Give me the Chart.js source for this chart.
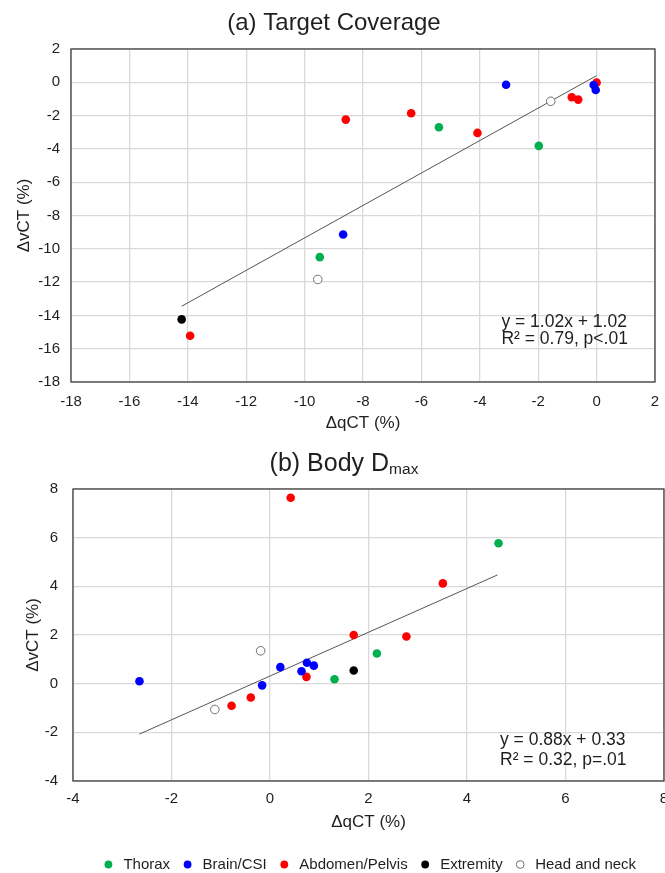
<!DOCTYPE html>
<html>
<head>
<meta charset="utf-8">
<title>qCT vs vCT</title>
<script src="https://cdn.jsdelivr.net/npm/chart.js@4.4.1/dist/chart.umd.min.js"></script>
<style>
  html, body { margin: 0; padding: 0; background: #fff; overflow: hidden; }
  #page { position: relative; width: 665px; height: 873px; overflow: hidden; }
  #chartA { position: absolute; left: 0; top: 0; }
  #chartB { position: absolute; left: 0; top: 440px; }
</style>
</head>
<body>
<div id="page">
  <canvas id="chartA" width="680" height="440"></canvas>
  <canvas id="chartB" width="734" height="442"></canvas>
</div>
<script>
// Site groups, in legend order
const categories = ['Thorax', 'Brain/CSI', 'Abdomen/Pelvis', 'Extremity', 'Head and neck'];

// (a) Target Coverage -- points are [ΔqCT, ΔvCT] in %
const coverageThorax = [[-5.4, -2.7], [-1.98, -3.82], [-9.48, -10.5]];
const coverageBrain = [[-3.1, -0.15], [-0.1, -0.16], [-0.03, -0.46], [-8.68, -9.14]];
const coverageAbdomen = [[0, -0.02], [-0.85, -0.9], [-0.63, -1.04], [-6.35, -1.86], [-8.59, -2.24], [-4.08, -3.04], [-13.92, -15.22]];
const coverageExtremity = [[-14.21, -14.24]];
const coverageHeadNeck = [[-1.57, -1.14], [-9.55, -11.84]];
const coverageFit = [[-14.21, -13.45], [0, 0.4]];
const coverageTicks = [-18, -16, -14, -12, -10, -8, -6, -4, -2, 0, 2];

// (b) Body Dmax
const dmaxThorax = [[4.64, 5.77], [2.17, 1.24], [1.31, 0.18]];
const dmaxBrain = [[-2.65, 0.1], [-0.16, -0.07], [0.21, 0.68], [0.64, 0.51], [0.75, 0.86], [0.89, 0.74]];
const dmaxAbdomen = [[0.42, 7.64], [3.51, 4.12], [1.7, 2.0], [2.77, 1.94], [0.74, 0.28], [-0.39, -0.57], [-0.78, -0.91]];
const dmaxExtremity = [[1.7, 0.54]];
const dmaxHeadNeck = [[-0.19, 1.35], [-1.12, -1.06]];
const dmaxFit = [[-2.65, -2.07], [4.62, 4.47]];
const dmaxTicks = [-4, -2, 0, 2, 4, 6, 8];

const FONT = "'Liberation Sans', Arial, Helvetica, sans-serif";
const TEXT = '#1f1f1f';

// marker look per group (same order as categories)
const fills = ['#00b050', '#0000ff', '#ff0000', '#000000', '#ffffff'];
const strokes = ['#00b050', '#0000ff', '#ff0000', '#000000', '#707070'];
const strokeWidths = [0, 0, 0, 0, 1];

function makeDatasets(groups, fit) {
  const sets = groups.map((pts, i) => ({
    label: categories[i],
    data: pts.map(p => ({ x: p[0], y: p[1] })),
    backgroundColor: fills[i],
    borderColor: strokes[i],
    borderWidth: strokeWidths[i],
    pointStyle: 'circle',
    pointRadius: 4.3,
    pointHoverRadius: 4.3,
    order: 0
  }));
  sets.push({
    label: 'Linear fit',
    data: fit.map(p => ({ x: p[0], y: p[1] })),
    showLine: true,
    borderColor: '#555555',
    borderWidth: 1,
    pointRadius: 0,
    pointHoverRadius: 0,
    fill: false,
    order: 1
  });
  return sets;
}

// box round the plot area
const framePlugin = {
  id: 'plotFrame',
  beforeDatasetsDraw(chart) {
    const { ctx, chartArea: a } = chart;
    ctx.save();
    ctx.strokeStyle = '#404040';
    ctx.lineWidth = 1.3;
    ctx.strokeRect(a.left, a.top, a.right - a.left, a.bottom - a.top);
    ctx.restore();
  }
};

// panel title, with optional subscript part
const titlePlugin = {
  id: 'panelTitle',
  afterDraw(chart, args, opts) {
    const ctx = chart.ctx;
    ctx.save();
    ctx.fillStyle = TEXT;
    ctx.textAlign = 'left';
    ctx.textBaseline = 'alphabetic';
    ctx.font = opts.size + 'px ' + FONT;
    const mainW = ctx.measureText(opts.text).width;
    let subW = 0;
    if (opts.sub) {
      ctx.font = opts.subSize + 'px ' + FONT;
      subW = ctx.measureText(opts.sub).width;
    }
    const x0 = opts.x - (mainW + subW) / 2;
    ctx.font = opts.size + 'px ' + FONT;
    ctx.fillText(opts.text, x0, opts.y);
    if (opts.sub) {
      ctx.font = opts.subSize + 'px ' + FONT;
      ctx.fillText(opts.sub, x0 + mainW, opts.y + opts.subShift);
    }
    ctx.restore();
  }
};

// regression text, placed in data coordinates
const notePlugin = {
  id: 'fitNote',
  afterDatasetsDraw(chart, args, opts) {
    const { ctx, scales } = chart;
    ctx.save();
    ctx.font = opts.size + 'px ' + FONT;
    ctx.fillStyle = TEXT;
    ctx.textAlign = 'left';
    ctx.textBaseline = 'middle';
    const px = scales.x.getPixelForValue(opts.x);
    opts.lines.forEach((line, i) => {
      ctx.fillText(line, px, scales.y.getPixelForValue(opts.y[i]));
    });
    ctx.restore();
  }
};

function axis(ticks, opts) {
  return {
    type: 'linear',
    min: ticks[0],
    max: ticks[ticks.length - 1],
    afterBuildTicks: s => { s.ticks = ticks.map(v => ({ value: v })); },
    afterFit: s => {
      if (opts.width) s.width = opts.width;
      if (opts.height) s.height = opts.height;
    },
    grid: { color: '#d9d9d9', lineWidth: 1.3, drawTicks: false },
    border: { display: false },
    ticks: {
      autoSkip: false,
      padding: opts.tickPad,
      color: TEXT,
      font: { family: FONT, size: 15 }
    },
    title: {
      display: true,
      text: opts.title,
      color: TEXT,
      font: { family: FONT, size: 17 },
      padding: opts.titlePad
    }
  };
}

new Chart(document.getElementById('chartA'), {
  type: 'scatter',
  data: {
    datasets: makeDatasets(
      [coverageThorax, coverageBrain, coverageAbdomen, coverageExtremity, coverageHeadNeck],
      coverageFit)
  },
  options: {
    responsive: false,
    animation: false,
    layout: { padding: { top: 49, right: 25, left: 0, bottom: 0 } },
    scales: {
      x: axis(coverageTicks, { height: 58, tickPad: 11, title: 'ΔqCT (%)', titlePad: { top: 0, bottom: 6 } }),
      y: axis(coverageTicks, { width: 71, tickPad: 11, title: 'ΔvCT (%)', titlePad: { top: 14, bottom: 0 } })
    },
    plugins: {
      legend: { display: false },
      tooltip: { enabled: false },
      panelTitle: { text: '(a) Target Coverage', size: 24, x: 334, y: 30 },
      fitNote: { size: 17.5, x: -3.26, y: [-14.4, -15.45], lines: ['y = 1.02x + 1.02', 'R² = 0.79, p<.01'] }
    }
  },
  plugins: [framePlugin, titlePlugin, notePlugin]
});

new Chart(document.getElementById('chartB'), {
  type: 'scatter',
  data: {
    datasets: makeDatasets(
      [dmaxThorax, dmaxBrain, dmaxAbdomen, dmaxExtremity, dmaxHeadNeck],
      dmaxFit)
  },
  options: {
    responsive: false,
    animation: false,
    layout: { padding: { top: 49, right: 70, left: 0, bottom: 0 } },
    scales: {
      x: axis(dmaxTicks, { height: 66, tickPad: 9, title: 'ΔqCT (%)', titlePad: { top: 0, bottom: 14 } }),
      y: axis(dmaxTicks, { width: 73, tickPad: 15, title: 'ΔvCT (%)', titlePad: { top: 23, bottom: 0 } })
    },
    plugins: {
      legend: {
        position: 'bottom',
        align: 'center',
        fullSize: false,
        labels: {
          usePointStyle: true,
          pointStyle: 'circle',
          boxWidth: 15,
          boxHeight: 5.5,
          padding: 10,
          color: TEXT,
          font: { family: FONT, size: 15 },
          filter: item => item.text !== 'Linear fit'
        }
      },
      tooltip: { enabled: false },
      panelTitle: { text: '(b) Body D', sub: 'max', size: 25, subSize: 15.5, subShift: 3, x: 344, y: 31 },
      fitNote: { size: 17.5, x: 4.67, y: [-2.31, -3.15], lines: ['y = 0.88x + 0.33', 'R² = 0.32, p=.01'] }
    }
  },
  plugins: [framePlugin, titlePlugin, notePlugin]
});
</script>
</body>
</html>
